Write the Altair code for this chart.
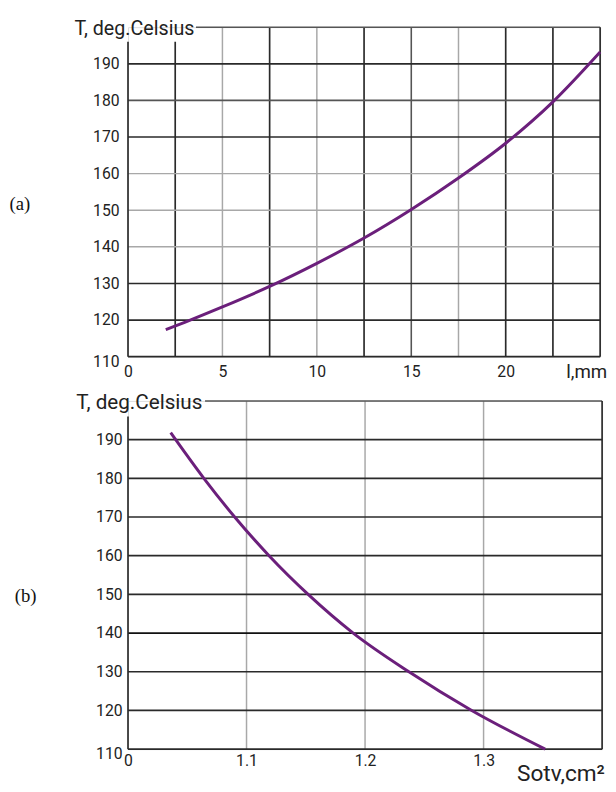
import altair as alt
import pandas as pd

# ---------------- data: panel (a) ----------------
a_len = [2.0, 3.0, 5.0, 7.5, 10.0, 12.5, 15.0, 17.5, 20.0, 22.5, 25.0]
a_temp = [117.4, 119.4, 123.6, 129.2, 135.5, 142.4, 150.2, 158.8, 168.3, 179.6, 193.2]
a_xticks = [0, 5, 10, 15, 20]
a_vgrid = [2.5, 5, 7.5, 10, 12.5, 15, 17.5, 20, 22.5]
a_vgrid_shade = ["dark", "light", "dark", "light", "dark", "mid", "light", "dark", "dark"]
a_hgrid = [120, 130, 140, 150, 160, 170, 180, 190]
a_hgrid_shade = ["dark", "dark", "light", "light", "light", "dark", "mid", "dark"]

# ---------------- data: panel (b) ----------------
b_area = [1.036, 1.064, 1.090, 1.119, 1.152, 1.190, 1.237, 1.290, 1.352]
b_temp = [191.8, 180.0, 170.0, 160.0, 150.0, 140.0, 130.0, 120.0, 110.0]
b_xticks = [1.0, 1.1, 1.2, 1.3]
b_vgrid = [1.1, 1.2, 1.3]
b_vgrid_shade = ["light", "light", "light"]
b_hgrid = [120, 130, 140, 150, 160, 170, 180, 190]
b_hgrid_shade = ["dark", "dark", "black", "dark", "dark", "dark", "dark", "dark"]

y_ticks = [110, 120, 130, 140, 150, 160, 170, 180, 190]
y_domain = [110, 200]

FONT = "Roboto, sans-serif"
SHADES = ["black", "dark", "mid", "light"]
SHADE_COLORS = ["#111111", "#2a2a2a", "#555555", "#a8a8a8"]
SHADE_WIDTHS = [1.8, 1.5, 1.3, 1.1]
CURVE = "#6b1f7b"


def panel(xs, ys, xdom, vgrid, vshade, hgrid, hshade, xticks, xlabel_expr,
          xtitle, xtitle_size, xtitle_x, xtitle_y, ytitle_x, ytitle_y,
          ytitle_size, title_end, under_title_top, tag, tag_x, tag_y,
          xpad, ypad, w, h):
    rows = []
    for v, s in zip(vgrid, vshade):
        rows.append(dict(x=v, x2=v, y=110, y2=under_title_top if v < title_end else 200, shade=s))
    for v, s in zip(hgrid, hshade):
        rows.append(dict(x=xdom[0], x2=xdom[1], y=v, y2=v, shade=s))
    # frame
    rows.append(dict(x=title_end, x2=xdom[1], y=200, y2=200, shade="mid"))
    rows.append(dict(x=xdom[1], x2=xdom[1], y=110, y2=200, shade="dark"))
    rows.append(dict(x=xdom[0], x2=xdom[0], y=110, y2=under_title_top, shade="dark"))
    rows.append(dict(x=xdom[0], x2=xdom[1], y=110, y2=110, shade="dark"))
    lines = pd.DataFrame(rows)

    xaxis = alt.Axis(values=xticks, labelExpr=xlabel_expr, ticks=False, grid=False,
                     domain=False, labelFont=FONT, labelFontSize=16, labelColor="#222",
                     labelPadding=xpad, labelFlush=False, title=xtitle, titleFont=FONT,
                     titleFontSize=xtitle_size, titleFontWeight="normal",
                     titleColor="#222", titleX=xtitle_x, titleY=xtitle_y,
                     titleAlign="left", titleBaseline="alphabetic")
    yaxis = alt.Axis(values=y_ticks, ticks=False, grid=False, domain=False,
                     labelFont=FONT, labelFontSize=16, labelColor="#222",
                     labelPadding=ypad,
                     labelOffset={"condition": {"test": "datum.value == 110", "value": 5}, "value": 0},
                     title="T,  deg.Celsius", titleFont=FONT, titleFontSize=ytitle_size,
                     titleFontWeight="normal", titleColor="#222", titleAngle=0,
                     titleX=ytitle_x, titleY=ytitle_y, titleAlign="left",
                     titleBaseline="alphabetic")
    xs_scale = alt.Scale(domain=xdom, nice=False, zero=False)
    ys_scale = alt.Scale(domain=y_domain, nice=False, zero=False)

    grid = alt.Chart(lines).mark_rule().encode(
        x=alt.X("x:Q", scale=xs_scale, axis=xaxis),
        x2="x2:Q",
        y=alt.Y("y:Q", scale=ys_scale, axis=yaxis),
        y2="y2:Q",
        color=alt.Color("shade:N", scale=alt.Scale(domain=SHADES, range=SHADE_COLORS), legend=None),
        strokeWidth=alt.StrokeWidth("shade:N", scale=alt.Scale(domain=SHADES, range=SHADE_WIDTHS), legend=None),
    )
    curve = alt.Chart(pd.DataFrame({"x": xs, "y": ys})).mark_line(
        color=CURVE, strokeWidth=3, interpolate="monotone"
    ).encode(
        x=alt.X("x:Q", scale=xs_scale, axis=xaxis),
        y=alt.Y("y:Q", scale=ys_scale, axis=yaxis),
    )
    label = alt.Chart(pd.DataFrame({"t": [tag]})).mark_text(
        font="Liberation Serif, Times New Roman, serif", fontSize=19, color="#111"
    ).encode(x=alt.value(tag_x), y=alt.value(tag_y), text="t:N")
    return alt.layer(grid, curve, label).properties(width=w, height=h)


pa = panel(a_len, a_temp, [0, 25], a_vgrid, a_vgrid_shade, a_hgrid, a_hgrid_shade,
           a_xticks, "format(datum.value, 'd')", "l,mm", 19, 445, 21,
           -55, 7, 20, 3.6, 196, "(a)", -110, 180, 7, 9, 480, 335)
pb = panel(b_area, b_temp, [1.0, 1.4], b_vgrid, b_vgrid_shade, b_hgrid, b_hgrid_shade,
           b_xticks, "datum.value == 1 ? '0' : format(datum.value, '.1f')", "Sotv,cm\u00b2",
           23, 395, 32, -53, 8, 21, 1.065, 196, "(b)", -104, 198, 4, 6, 482, 354)

chart = alt.vconcat(pa, pb, spacing=9).properties(
    padding={"left": 0, "top": 3, "right": 0, "bottom": -5}
).configure_view(stroke=None).configure(background="white")

chart.save("out.html", embed_options={"renderer": "svg", "actions": False})
